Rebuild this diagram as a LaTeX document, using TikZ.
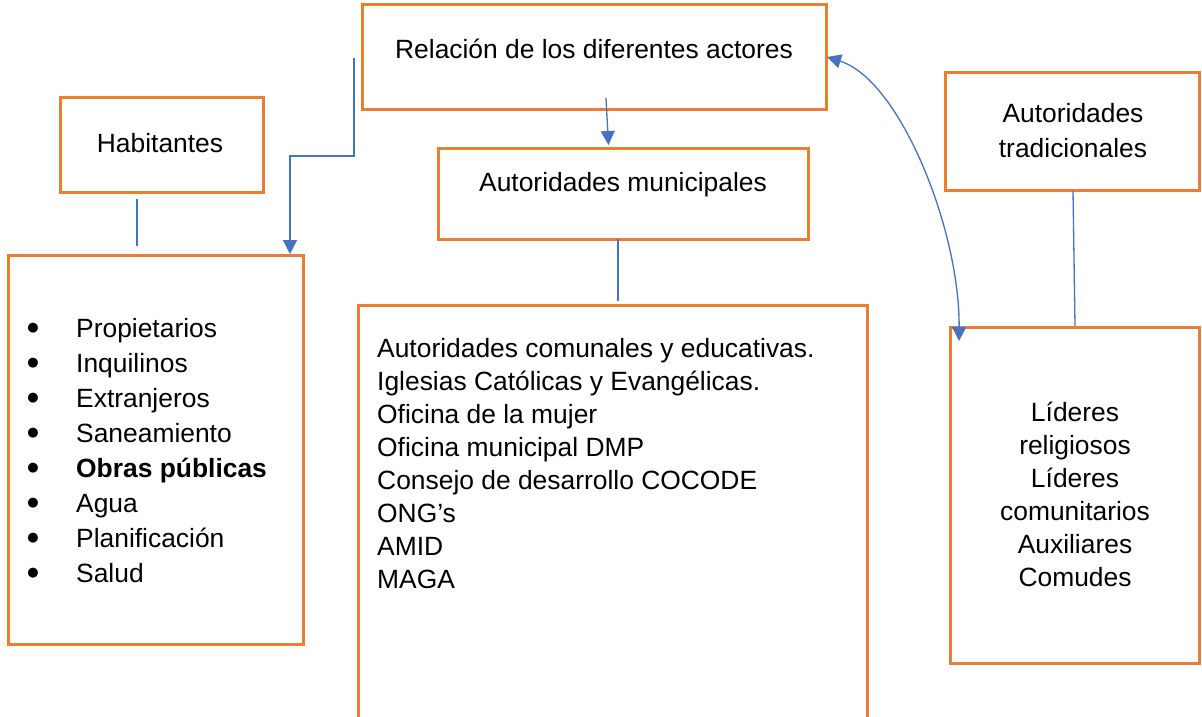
\documentclass[tikz,border=0pt]{standalone}
\usepackage{fontspec}
\setmainfont{Liberation Sans}
\newfontfamily\dotfont{DejaVu Sans}
\usetikzlibrary{arrows.meta}
\definecolor{boxorange}{HTML}{ED7D31}
\definecolor{linkblue}{HTML}{4472C4}
\begin{document}
\begin{tikzpicture}[x=1pt,y=-1pt,
  box/.style={draw=boxorange, line width=3pt, rectangle, inner sep=0pt},
  txt/.style={inner sep=0pt, font=\fontsize{26.4}{31}\selectfont, text=black},
  bul/.style={inner sep=0pt, font=\dotfont\fontsize{13}{13}\selectfont, text=black},
  link/.style={draw=linkblue, line width=1.3pt},
  tipb/.tip={Triangle[width=14pt,length=14pt]},
  arr/.style={link, -tipb}]
\clip (0,0) rectangle (1202,717);
\fill[white] (0,0) rectangle (1202,717);

% boxes
\node[box, minimum width=464pt, minimum height=104pt] (top) at (594,57) {};
\node[box, minimum width=203pt, minimum height=95pt] (hab) at (161.5,144.5) {};
\node[box, minimum width=370pt, minimum height=91pt] (mun) at (623,193.5) {};
\node[box, minimum width=254pt, minimum height=117pt] (trad) at (1072,131.5) {};
\node[box, minimum width=295pt, minimum height=389pt] (list) at (155.5,449.5) {};
\node[box, minimum width=509pt, minimum height=455pt] (mid) at (612.5,532.5) {};
\node[box, minimum width=249pt, minimum height=336pt] (lead) at (1074.5,495) {};

% titles
\node[txt, anchor=base] (ttop) at (594,59) {Relación de los diferentes actores};
\node[txt, anchor=base] (thab) at (160,152) {Habitantes};
\node[txt, anchor=base] (tmun) at (623,191) {Autoridades municipales};
\node[txt, anchor=base] (ttrad1) at (1073,122) {Autoridades};
\node[txt, anchor=base] (ttrad2) at (1073,157) {tradicionales};

% left list
\foreach \t [count=\i from 0] in {Propietarios,Inquilinos,Extranjeros,Saneamiento,{\bfseries Obras públicas},Agua,Planificación,Salud}{
  \node[bul, anchor=center] (b\i) at (33,328+35*\i) {●};
  \node[txt, anchor=base west] (l\i) at (76,337+35*\i) {\t};
}

% middle list
\foreach \t [count=\i from 0] in {Autoridades comunales y educativas.,Iglesias Católicas y Evangélicas.,Oficina de la mujer,Oficina municipal DMP,Consejo de desarrollo COCODE,ONG’s,AMID,MAGA}{
  \node[txt, anchor=base west] (m\i) at (377,357+33*\i) {\t};
}

% right list
\foreach \t [count=\i from 0] in {Líderes,religiosos,Líderes,comunitarios,Auxiliares,Comudes}{
  \node[txt, anchor=base] (r\i) at (1075,421+33*\i) {\t};
}

% connectors
\coordinate (h1) at (137,199);
\coordinate (h2) at (137,246);
\draw[link] (h1) -- (h2);

\coordinate (a0) at (354,58);
\coordinate (a1) at (290,254);
\draw[arr] (a0) -- (354,156) -- (290,156) -- (a1);

\coordinate (s0) at (606,98);
\coordinate (s1) at (608.5,145);
\draw[arr] (s0) -- (s1);

\coordinate (m0) at (618,239);
\coordinate (m1) at (618,301);
\draw[link] (m0) -- (m1);

\coordinate (c0) at (827,57);
\coordinate (c1) at (959,341);
\draw[link, tipb-tipb] (c0) .. controls (900,80) and (960,230) .. (c1);

\coordinate (t0) at (1073,191);
\coordinate (t1) at (1075,326);
\draw[link] (t0) -- (t1);
\end{tikzpicture}
\end{document}
